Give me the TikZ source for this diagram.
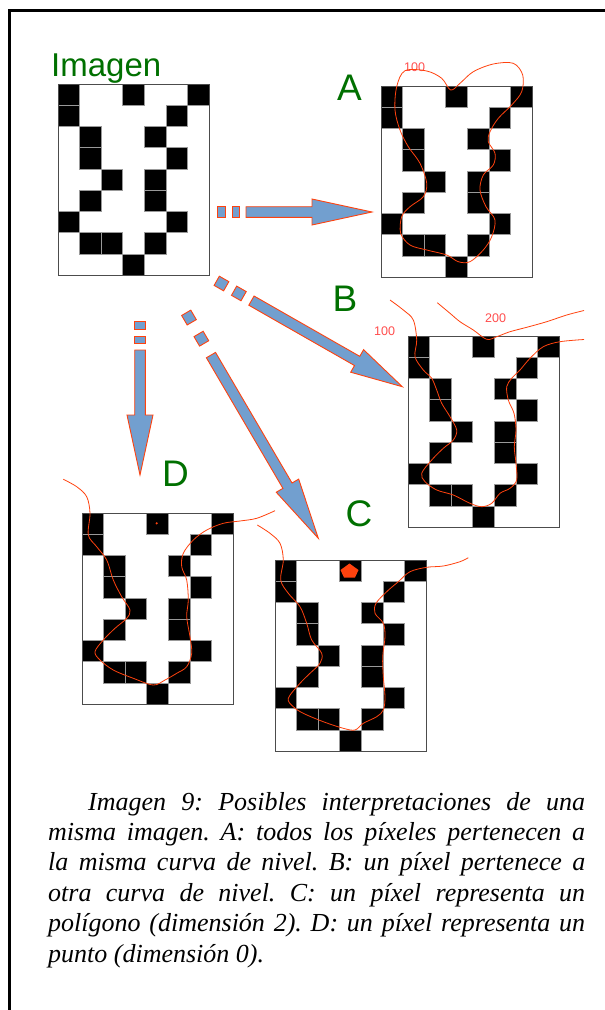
\documentclass[tikz,border=0pt]{standalone}
\usepackage{fontspec}
\setmainfont{Liberation Serif}
\newfontfamily\lsans{Liberation Sans}
\usetikzlibrary{calc}
\definecolor{arrblue}{HTML}{729FCF}
\definecolor{arrred}{HTML}{FF420E}
\definecolor{crv}{HTML}{FF420E}
\definecolor{lblred}{HTML}{FF4D4D}
\definecolor{lblgreen}{HTML}{007000}
\def\arrsw{5.3pt}
\def\arrhw{13pt}
\frenchspacing
\newcommand\pixgrid[3]{%
  \begin{scope}[shift={(#2,#3)}]
    \foreach \c/\r in {0/0,3/0,6/0,0/1,5/1,1/2,4/2,1/3,5/3,2/4,4/4,1/5,4/5,0/6,5/6,1/7,2/7,4/7,3/8}
      \filldraw[cellstyle] ({\c*151/7},{\r*191/9}) rectangle ({(\c+1)*151/7},{(\r+1)*191/9});
  \end{scope}
  \node[gridstyle] (#1) at ({#2+75.5},{#3+95.5}) {};
}
\newcommand\blkarrow[7]{%
  \coordinate (#1-q1) at ($(#1)!#4pt!(#2)$);
  \coordinate (#1-q2) at ($(#1)!#5pt!(#2)$);
  \coordinate (#1-q3) at ($(#1)!#6pt!(#2)$);
  \coordinate (#1-q4) at ($(#1)!#7pt!(#2)$);
  \coordinate (#1-hb) at ($(#2)!#3pt!(#1)$);
  \filldraw[arrstyle] ($(#1)!\arrsw!90:(#2)$) -- ($(#1-q1)!\arrsw!90:(#2)$) -- ($(#1-q1)!\arrsw!-90:(#2)$) -- ($(#1)!\arrsw!-90:(#2)$) -- cycle;
  \filldraw[arrstyle] ($(#1-q2)!\arrsw!90:(#2)$) -- ($(#1-q3)!\arrsw!90:(#2)$) -- ($(#1-q3)!\arrsw!-90:(#2)$) -- ($(#1-q2)!\arrsw!-90:(#2)$) -- cycle;
  \filldraw[arrstyle] ($(#1-q4)!\arrsw!90:(#2)$) -- ($(#1-hb)!\arrsw!-90:(#1)$) -- ($(#1-hb)!\arrhw!-90:(#1)$) -- (#2) -- ($(#1-hb)!\arrhw!90:(#1)$) -- ($(#1-hb)!\arrsw!90:(#1)$) -- ($(#1-q4)!\arrsw!-90:(#2)$) -- cycle;
}
\begin{document}
\begin{tikzpicture}[x=1pt,y=-1pt,
  cellstyle/.style={fill=black,draw=black!40,line width=0.5pt},
  gridstyle/.style={draw=black!70,line width=1pt,minimum width=151pt,minimum height=191pt,inner sep=0pt,outer sep=0pt},
  arrstyle/.style={fill=arrblue,draw=arrred,line width=0.9pt,line join=miter},
  crvstyle/.style={draw=crv,line width=0.8pt},
  biglbl/.style={anchor=base west,inner sep=0pt,text=lblgreen,font=\lsans\fontsize{37}{37}\selectfont},
  numlbl/.style={anchor=base west,inner sep=0pt,text=lblred,font=\lsans\fontsize{12.5}{12.5}\selectfont}]
\useasboundingbox (0,0) rectangle (605,1010);
\fill[white] (0,0) rectangle (605,1010);
% frame
\draw[line width=2.2pt] (9.5,1012) -- (9.5,10.5) -- (607,10.5);

% grids
\pixgrid{gI}{58}{84}
\pixgrid{gA}{381}{86}
\pixgrid{gB}{408}{336}
\pixgrid{gD}{82}{513}
\pixgrid{gC}{275}{560}

% labels
\node[biglbl,font=\lsans\fontsize{33}{33}\selectfont] (lI) at (51,76) {Imagen};
\node[biglbl] (lA) at (337,100.7) {A};
\node[biglbl] (lB) at (332.5,311.7) {B};
\node[biglbl] (lD) at (162,486.7) {D};
\node[biglbl] (lC) at (345.5,526.5) {C};
\node[numlbl] (nA) at (404,71.7) {100};
\node[numlbl] (nB1) at (374,335) {100};
\node[numlbl] (nB2) at (485,322.3) {200};

% arrows
\coordinate (s1) at (217,212);   \coordinate (t1) at (372,212);
\coordinate (s2) at (216.7,280.8); \coordinate (t2) at (402.3,386.7);
\coordinate (s3) at (186.2,312.8); \coordinate (t3) at (318.3,538.3);
\coordinate (s4) at (140,321);   \coordinate (t4) at (140,475);
\blkarrow{s1}{t1}{60}{8}{15}{22}{29}
\blkarrow{s2}{t2}{52}{11}{20}{31}{40}
\blkarrow{s3}{t3}{61}{11}{24.5}{35.5}{49}
\blkarrow{s4}{t4}{60}{8}{15}{22}{29}

% curve A (closed)
\draw[crvstyle] plot[smooth cycle,tension=0.55] coordinates {
(426.7,71) (441.7,78.3) (450.7,90) (460,83.3) (473.3,71.7) (493.3,64) (513.3,63.3)
(522.7,75) (521.7,91.7) (511.7,105) (498.3,118.3) (490,131.7) (488.3,141.7) (495,153.3)
(493.3,165) (483.3,175) (480,190) (486,206.7) (495,220) (491.7,236.7) (483.3,250)
(470,261.7) (458.3,261.7) (446.7,255) (426.7,250) (410,245) (400.7,233.3) (401.7,216.7)
(410,206.7) (423.3,196.7) (426.7,183.3) (420,163.3) (408.3,146.7) (400,130) (395,110)
(396.7,86.7) (405,70.7)};

% curve B
\draw[crvstyle] plot[smooth,tension=0.55] coordinates {
(390,300) (403.3,310) (413.3,320) (416.7,340) (415,356.7) (423.3,370) (431.7,378.3)
(436.7,390) (441.7,403.3) (450,416.7) (456.7,430) (453.3,440) (443.3,448.3) (431.7,460)
(421.7,473.3) (425,481.7) (436.7,490) (453.3,495) (470,503.3) (481.7,506.7) (491.7,503.3)
(500,493.3) (510,488.3) (516.7,480) (516,463.3) (514.3,446.7) (516,430) (514,413.3)
(508.3,400) (506.7,386.7) (511.7,378.3) (520,370) (530,358.3) (543.3,346.7) (560,341.7) (584,339.5)};
\draw[crvstyle] plot[smooth,tension=0.55] coordinates {
(437.3,302.7) (450,313.3) (460,321.7) (473.3,330) (486.7,339.3) (496.7,336.7) (510,331.7)
(526.7,327.3) (546.7,321.7) (566.7,315) (584,310.5)};

% curve D
\draw[crvstyle] plot[smooth,tension=0.55] coordinates {
(63.3,479.3) (76.7,486.7) (86.7,496.7) (90,513.3) (88.3,535) (96.7,546.7) (106.7,560)
(113.3,580) (121.7,596.7) (130,610) (126.7,618.3) (115,628.3) (103.3,640) (95,651.7)
(100,660) (113.3,670) (133.3,678.3) (153.3,685) (165,680) (176.7,673.3) (186.7,666.7)
(191.7,653.3) (190,636.7) (186.7,616.7) (188.3,600) (186.7,580) (181.7,566.7) (183.3,553.3)
(193.3,540) (206.7,530) (223.3,523.3) (240,521) (256.7,518.3) (275,510.7)};
\fill[crv] (156.7,523.3) circle (1.2);

% curve C
\draw[crvstyle] plot[smooth,tension=0.55] coordinates {
(257.3,525) (270,533.3) (280,543.3) (283.3,560) (280.7,580) (288.3,593.3) (300,606.7)
(306.7,623.3) (311.7,640) (321.7,653.3) (320,663.3) (310,673.3) (300,683.3) (288.3,698.3)
(293.3,706.7) (303.3,713.3) (323.3,721.7) (343.3,728.3) (355,730) (363.3,723.3) (376.7,716.7)
(383.3,710) (385,696.7) (383.3,676.7) (382.7,656.7) (385,636.7) (383.3,623.3) (375,613.3)
(376,603.3) (386.7,591.7) (398.3,581.7) (410,571.7) (426.7,567.3) (443.3,566) (460,561.7) (468.3,557.7)};
\fill[crv] (349.5,563.5) -- (358.5,570) -- (355,577.5) -- (344,577.5) -- (340.5,570) -- cycle;

% caption
\node[anchor=base west,inner sep=0pt,font=\itshape\fontsize{26}{30.4}\selectfont] (cap) at (48,810)
{\parbox[t]{537pt}{\frenchspacing\tolerance=10000\hbadness=10000\hspace*{40pt}Imagen 9: Posibles interpretaciones de una\linebreak
misma imagen. A: todos los píxeles pertenecen a\linebreak
la misma curva de nivel. B: un píxel pertenece a\linebreak
otra curva de nivel. C: un píxel representa un\linebreak
polígono (dimensión 2). D: un píxel representa un\linebreak
punto (dimensión 0).}};
\end{tikzpicture}
\end{document}
